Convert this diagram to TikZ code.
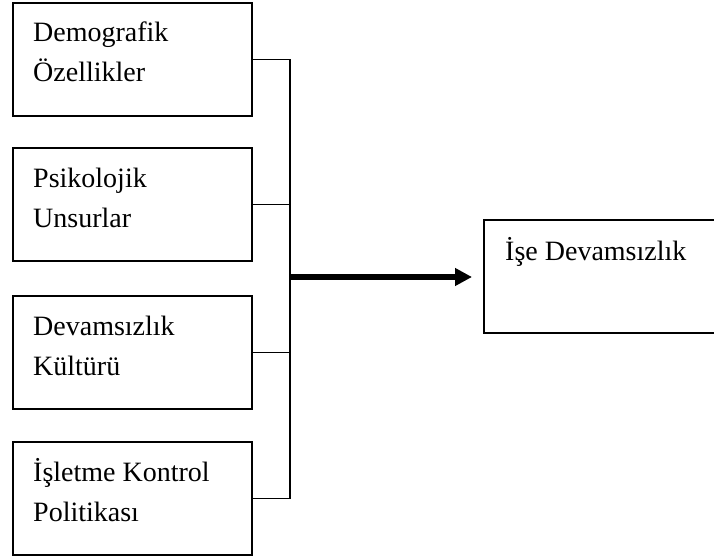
\documentclass[tikz,border=0pt]{standalone}
\usepackage{fontspec}
\setmainfont{Liberation Serif}
\usetikzlibrary{arrows.meta}
\begin{document}
\begin{tikzpicture}[x=1pt, y=-1pt,
  box/.style={draw=black, line width=2pt, minimum width=239pt, minimum height=113pt,
              anchor=north west, inner sep=0pt},
  lbl/.style={anchor=base west, inner sep=0pt, font=\fontsize{28}{40}\selectfont},
  link/.style={draw=black, line width=1.8pt}]
\useasboundingbox (0,0) rectangle (714,556);

% factor boxes on the left
\node[box] (b1) at (12,2) {};
\node[box] (b2) at (12,147) {};
\node[box] (b3) at (12,295) {};
\node[box] (b4) at (12,441) {};
% outcome box, its right edge running past the page
\node[box, minimum width=240pt] (out) at (483,219) {};

% labels
\node[lbl] (t1a) at ([shift={(21,40)}]b1.north west) {Demografik};
\node[lbl] (t1b) at ([shift={(21,80)}]b1.north west) {Özellikler};
\node[lbl] (t2a) at ([shift={(21,40)}]b2.north west) {Psikolojik};
\node[lbl] (t2b) at ([shift={(21,80)}]b2.north west) {Unsurlar};
\node[lbl] (t3a) at ([shift={(21,40)}]b3.north west) {Devamsızlık};
\node[lbl] (t3b) at ([shift={(21,80)}]b3.north west) {Kültürü};
\node[lbl] (t4a) at ([shift={(21,40)}]b4.north west) {İşletme Kontrol};
\node[lbl] (t4b) at ([shift={(21,80)}]b4.north west) {Politikası};
\node[lbl] (to) at ([shift={(22,41)}]out.north west) {İşe Devamsızlık};

% collecting bus
\coordinate (bus) at (290,0);
\coordinate (hub) at (290,277);
\draw[link] (b1.east) -- (b1.east -| bus) -- (b4.east -| bus) -- (b4.east);
\draw[link] (b2.east) -- (b2.east -| bus);
\draw[link] (b3.east) -- (b3.east -| bus);

% main arrow
\draw[line width=5.5pt, -{Triangle[length=17pt, width=17pt]}, shorten >=11pt]
  (hub) -- (hub -| out.west);
\end{tikzpicture}
\end{document}
